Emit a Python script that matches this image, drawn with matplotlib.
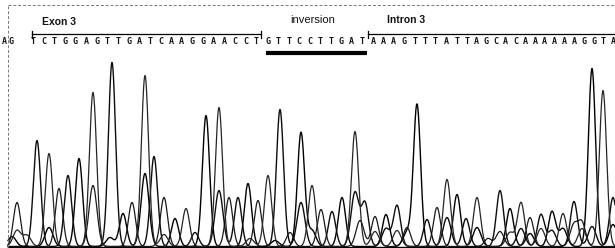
import numpy as np
import matplotlib.pyplot as plt

plt.rcParams['font.family'] = ['Liberation Sans', 'DejaVu Sans']

# base calls shown above the trace
sequence = "AGTCTGGAGTTGATCAAGGAACCT" "GTTCCTTGAT" "AAAGTTTA" "TTAGCACAAAAAAGGTA"
region_labels = ["Exon 3", "inversion", "Intron 3"]

# main peaks: scan position, signal height, dye channel
main_pos = [17, 37, 49, 59, 68, 79, 93, 112, 123, 132, 145, 154, 164, 175, 186, 195,
            206, 219, 229, 238, 248, 258, 268, 280, 290, 301, 312, 321, 332, 342,
            355, 365, 375, 386, 397, 407, 417, 427, 437, 447, 457, 466, 477, 488,
            500, 510, 521, 530, 541, 552, 563, 574, 582, 592, 603, 613]
main_h = [44, 106, 93, 58, 71, 88, 154, 184, 33, 44, 171, 90, 49, 28, 38, 14,
          131, 139, 49, 49, 63, 46, 71, 137, 14, 114, 61, 37, 35, 49,
          115, 43, 30, 32, 41, 19, 142, 27, 39, 67, 52, 28, 49, 8,
          56, 38, 44, 29, 32, 35, 33, 45, 23, 178, 156, 49]
main_ch = "CGTCGATGACTGCATGATCGACTGCATCGATGCAGCAGCTAGTCGATCGATGCATG"

# smaller underlying peaks
minor_pos = [12, 17, 27, 49, 93, 110, 145, 164, 219, 250, 275, 301, 312, 355, 360,
             375, 386, 397, 407, 447, 477, 500, 510, 521, 530, 541, 552, 563, 574,
             582, 592, 613]
minor_h = [10, 16, 11, 19, 61, 9, 73, 12, 56, 8, 6, 44, 16, 54, 26,
           15, 18, 16, 14, 29, 19, 15, 14, 18, 13, 18, 16, 18, 22,
           18, 20, 22]
minor_ch = "ATTACAATGTAGAGCTGTAGACTGATGACTGA"

channels = {'A': ('black', 1.0), 'C': ('#1a1a1a', 0.9),
            'G': ('#0d0d0d', 1.0), 'T': ('#262626', 0.9)}

fig = plt.figure(figsize=(6.15, 2.48), dpi=100)
ax = fig.add_axes([0, 0, 1, 1])
ax.set_xlim(0, 615)
ax.set_ylim(0, 248)
ax.axis('off')

x = np.linspace(8, 615, 2400)
base = 1.5
sigma = 3.6
for ch, (col, lw) in channels.items():
    y = np.zeros_like(x)
    for p, h, c in zip(main_pos, main_h, main_ch):
        if c == ch:
            y += h * np.exp(-0.5 * ((x - p) / sigma) ** 2)
    for p, h, c in zip(minor_pos, minor_h, minor_ch):
        if c == ch:
            y += h * np.exp(-0.5 * ((x - p) / (sigma * 1.1)) ** 2)
    ax.plot(x, base + y, color=col, lw=lw)

# frame
ax.plot([8, 615], [1, 1], color='black', lw=1.0)
ax.plot([8, 8], [1, 243], color='#777777', lw=0.7, ls=(0, (3, 2)))
ax.plot([8, 615], [243, 243], color='#777777', lw=0.7, ls=(0, (3, 2)))

# sequence letters
seq_x = np.concatenate([[4, 11], np.linspace(33, 256, 22), np.linspace(268, 362, 10),
                        np.linspace(373, 446, 8), np.linspace(457, 613, 17)])
for sx, b in zip(seq_x, sequence):
    ax.text(sx, 206, b, fontsize=6, fontweight='bold', ha='center', va='center',
            color='#111111', family=['DejaVu Sans Mono'])

# region brackets
ax.plot([32, 261], [214, 214], color='black', lw=0.9)
ax.plot([32, 32], [210, 217], color='black', lw=0.9)
ax.plot([261, 261], [210, 217], color='black', lw=0.9)
ax.plot([368, 615], [214, 214], color='black', lw=0.9)
ax.plot([368, 368], [210, 217], color='black', lw=0.9)
ax.plot([266, 367], [195, 195], color='black', lw=3.0, solid_capstyle='butt')

ax.text(42, 226, region_labels[0], fontsize=7.5, fontweight='bold', ha='left',
        va='center', color='#111111')
ax.text(290, 228, region_labels[1], fontsize=8, ha='left', va='center', color='#111111')
ax.text(387, 228, region_labels[2], fontsize=7.5, fontweight='bold', ha='left',
        va='center', color='#111111')

plt.savefig('out.png', dpi=100)
